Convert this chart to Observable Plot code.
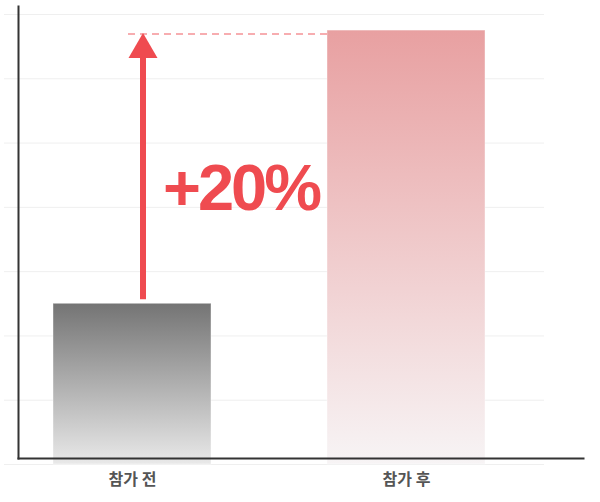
<!DOCTYPE html>
<html><head><meta charset="utf-8">
<script src="https://cdn.jsdelivr.net/npm/d3@7"></script>
<script src="https://cdn.jsdelivr.net/npm/@observablehq/plot@0.6"></script>
<style>body{margin:0;background:#fff;font-family:"Noto Sans CJK KR","Noto Sans",sans-serif}</style>
</head><body><div id="chart"></div>
<script>
// ---- data ----
const categories = ["참가 전", "참가 후"];
const values = [50, 135];
const gridTicks = [0, 20, 40, 60, 80, 100, 120, 140];
const changeLabel = "+20%";

// ---- styles ----
const RED = "#ef4b50";
const gradStops = [["#747474", "#e9e9e9"], ["#e8a0a1", "#f7f4f5"]];

const data = categories.map((c, i) => ({category: c, value: values[i], idx: i}));

function defs() {
  const d = d3.create("svg:defs");
  gradStops.forEach(([a, b], i) => {
    const g = d.append("linearGradient").attr("id", "grad" + i)
      .attr("x1", 0).attr("y1", 0).attr("x2", 0).attr("y2", 1);
    g.append("stop").attr("offset", "0%").attr("stop-color", a);
    g.append("stop").attr("offset", "100%").attr("stop-color", b);
  });
  return d.node();
}

function annotation(index, scales) {
  const {x, y} = scales;
  const bw = x.bandwidth ? x.bandwidth() : 0;
  const cx = x(categories[0]) + bw / 2 + 11;
  const yBefore = y(values[0]);
  const yAfter = y(values[1]);
  const dashY = yAfter + 4;
  const tipY = dashY - 1;
  const headH = 25, headW = 29;
  const g = d3.create("svg:g");
  g.append("line")
    .attr("x1", cx - 15).attr("x2", x(categories[1]))
    .attr("y1", dashY).attr("y2", dashY)
    .attr("stroke", RED).attr("stroke-opacity", 0.6)
    .attr("stroke-width", 1.5).attr("stroke-dasharray", "7,5");
  g.append("line")
    .attr("x1", cx).attr("x2", cx)
    .attr("y1", yBefore - 4).attr("y2", tipY + headH - 1)
    .attr("stroke", RED).attr("stroke-width", 6);
  g.append("path")
    .attr("d", `M${cx},${tipY}L${cx + headW / 2},${tipY + headH}L${cx - headW / 2},${tipY + headH}Z`)
    .attr("fill", RED);
  g.append("text")
    .attr("x", cx + 20)
    .attr("y", y((values[0] + values[1]) / 2) + 43)
    .attr("text-anchor", "start")
    .attr("fill", RED)
    .attr("font-family", "'Liberation Sans', Arial, sans-serif")
    .attr("font-weight", "bold")
    .attr("font-size", 65)
    .attr("letter-spacing", -3)
    .text(changeLabel);
  return g.node();
}

const chart = Plot.plot({
  width: 600,
  height: 502,
  marginLeft: 18,
  marginRight: 17,
  marginTop: 6,
  marginBottom: 44,
  x: {domain: categories, range: [53, 485], paddingInner: 0.424, paddingOuter: 0},
  y: {domain: [0, 140], range: [464, 14], axis: null},
  color: {type: "identity"},
  marks: [
    defs,
    Plot.ruleY(gridTicks, {stroke: "#efefef", strokeWidth: 1, insetLeft: -14, insetRight: 39}),
    Plot.barY(data, {x: "category", y: "value", fill: d => `url(#grad${d.idx})`, stroke: "#ffffff", strokeOpacity: 0.4}),
    Plot.frame({anchor: "left", stroke: "#333", strokeWidth: 2}),
    Plot.frame({anchor: "bottom", stroke: "#333", strokeWidth: 2}),
    Plot.axisX({tickSize: 0, tickPadding: 15, fontSize: 16, fontWeight: "bold", fill: "#555", label: null}),
    annotation
  ]
});
chart.style.fontFamily = "'Noto Sans CJK KR', sans-serif";
document.getElementById("chart").append(chart);
</script>
</body></html>
